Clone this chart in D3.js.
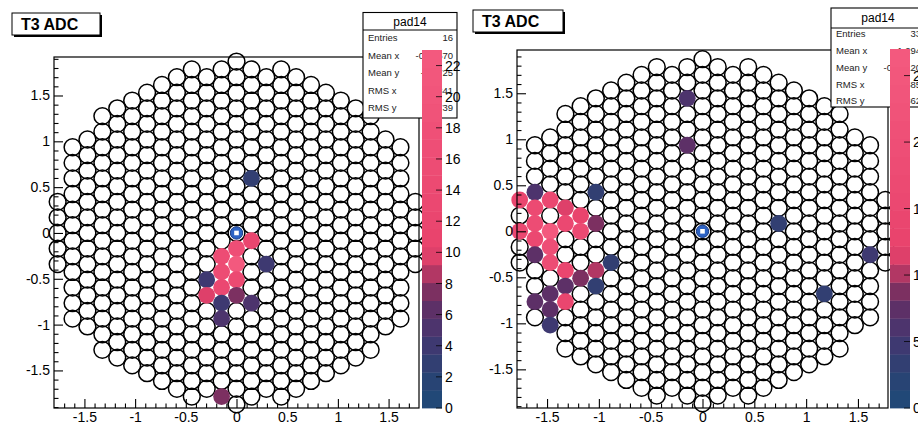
<!DOCTYPE html>
<html>
<head>
<meta charset="utf-8">
<script src="https://cdn.jsdelivr.net/npm/d3@7/dist/d3.min.js"></script>
<style>
  html, body { margin: 0; padding: 0; background: #ffffff; }
  svg { display: block; }
  text { font-family: "Liberation Sans", Arial, Helvetica, sans-serif; fill: #000; }
</style>
</head>
<body>
<svg id="chart" width="918" height="429"></svg>
<script>
// ---- pad layout: hexagonal lattice, odd columns sit half a row off ----
const columnIndex  = [-12, -11, -10, -9, -8, -7, -6, -5, -4, -3, -2, -1, 0, 1, 2, 3, 4, 5, 6, 7, 8, 9, 10, 11, 12];
const columnTopRow = [2, 5.5, 6, 7.5, 8, 8.5, 9, 9.5, 10, 10.5, 10, 10.5, 11, 10.5, 10, 10.5, 10, 9.5, 9, 8.5, 8, 7.5, 6, 5.5, 2];
const pitchX = 0.147;   // column spacing (axis units)
const pitchY = 0.17;    // row spacing (axis units)

// ---- hit pads, first event ----
const padColA = [1, 0, -1, 0, -1, 0, -2, -1, -2, 0, -1, 1, -1, 2, 1, -1];
const padRowA = [-0.5, -1, -1.5, -2, -2.5, -3, -3, -3.5, -4, -4, -4.5, -4.5, -5.5, -2, 3.5, -10.5];
const adcA    = [12.5, 17, 15, 23, 16, 14, 4.5, 13, 10, 7, 4.5, 5, 5.5, 4.5, 2.5, 7];

// ---- hit pads, second event ----
const padColB = [-1, -1, -7, -11, -12, -11, -10, -9, -8, -12, -11, -11, -10, -9, -8, -7, -10, -11, -10, -6,
                 -9, -7, -8, -7, -9, -10, -9, -11, -10, -10, 5, 11, 8];
const padRowB = [8.5, 5.5, 2.5, 2.5, 2, 1.5, 2, 1.5, 1, 0, 0.5, -0.5, 0, 0.5, 0, 0.5, -1, -1.5, -2, -2,
                 -2.5, -2.5, -3, -3.5, -3.5, -4, -4.5, -4.5, -5, -6, 0.5, -1.5, -4];
const adcB    = [6, 8, 4, 5.5, 14, 17, 15, 12, 13, 16, 18, 16, 27, 15, 17, 8.5, 19, 8, 18, 3,
                 14, 10, 8.5, 4, 8, 8, 14, 8, 7.5, 5, 3, 5, 3];

// ---- axis and palette tick labels ----
const axisTicks = [-1.5, -1, -0.5, 0, 0.5, 1, 1.5];
const barTicksA = [0, 2, 4, 6, 8, 10, 12, 14, 16, 18, 20, 22];
const barTicksB = [0, 5, 10, 15, 20, 25];
const statNames = ["Entries", "Mean x", "Mean y", "RMS x", "RMS y"];
const histTitle = "T3 ADC";
const statTitle = "pad14";

// ---- colour palette (fraction of z maximum -> colour) ----
const paletteStops  = [0, 0.1, 0.2, 0.28, 0.34, 0.39, 0.44, 1];
const paletteColors = ["#1d4a78", "#2b4273", "#453670", "#5f3066", "#86305f", "#c53a66", "#e8426c", "#f45a7f"];
const nLevels = 20;

const panels = [
  { frame: {x0: 54, x1: 419, y0: 57, y1: 408}, xDomain: [-1.8, 1.8], yDomain: [-1.91, 1.92],
    bar: {x: 422, w: 20, y0: 50, y1: 408},
    stats: {x: 363, y: 12.5, w: 94, h: 105.5, sep: 30, rows: [38, 55.5, 73, 90.5, 108]},
    title: {x: 12, y: 13, w: 88, h: 22},
    cols: padColA, rows: padRowA, vals: adcA, barTicks: barTicksA },
  { frame: {x0: 517, x1: 888, y0: 50, y1: 408}, xDomain: [-1.79, 1.79], yDomain: [-1.92, 1.97],
    bar: {x: 890, w: 20, y0: 49, y1: 408},
    stats: {x: 831, y: 8, w: 94, h: 99, sep: 28, rows: [34, 51, 68, 85, 101]},
    title: {x: 473, y: 10, w: 90, h: 22},
    cols: padColB, rows: padRowB, vals: adcB, barTicks: barTicksB }
];

const svg = d3.select("#chart");
const padR = 8.4;
const fmtTick = v => String(v);
const fmtStat = v => d3.format(".4g")(v).replace("\u2212", "-");
const palette = d3.scaleLinear().domain(paletteStops).range(paletteColors).interpolate(d3.interpolateRgb);
const levelColor = i => palette((i + 0.5) / nLevels);

// every pad of the detector
const cells = [];
columnIndex.forEach((k, i) => {
  const top = columnTopRow[i];
  for (let r = -top; r <= top + 1e-9; r += 1) cells.push({k, r});
});
const isMajor = v => Math.abs(v * 2 - Math.round(v * 2)) < 1e-9;

panels.forEach(p => {
  const x = d3.scaleLinear().domain(p.xDomain).range([p.frame.x0, p.frame.x1]);
  const y = d3.scaleLinear().domain(p.yDomain).range([p.frame.y1, p.frame.y0]);
  const zMax = d3.max(p.vals);
  const z = d3.scaleLinear().domain([0, zMax]).range([p.bar.y1, p.bar.y0]);
  const level = v => Math.min(nLevels - 1, Math.floor(v / zMax * nLevels));

  const hits = p.vals.map((v, i) => ({k: p.cols[i], r: p.rows[i], v}));
  const hitKey = new Set(hits.map(h => h.k + "," + h.r));
  const px = d => x(d.k * pitchX), py = d => y(d.r * pitchY);

  const g = svg.append("g");

  // pads: white bodies, outlines of empty pads, then coloured hits
  g.append("g").selectAll("circle").data(cells).join("circle")
    .attr("cx", px).attr("cy", py).attr("r", padR).attr("fill", "#fff");
  g.append("g").selectAll("circle").data(cells.filter(c => !hitKey.has(c.k + "," + c.r))).join("circle")
    .attr("cx", px).attr("cy", py).attr("r", padR)
    .attr("fill", "none").attr("stroke", "#000").attr("stroke-width", 1.5);
  g.append("g").selectAll("circle").data(hits).join("circle")
    .attr("cx", px).attr("cy", py).attr("r", padR)
    .attr("fill", d => levelColor(level(d.v)));

  // beam-centre marker
  g.append("circle").attr("cx", x(0)).attr("cy", y(0)).attr("r", 6.2)
    .attr("fill", "#2d63c4").attr("stroke", "#1b3d86").attr("stroke-width", 1);
  g.append("rect").attr("x", x(0) - 2.3).attr("y", y(0) - 2.3).attr("width", 4.6).attr("height", 4.6)
    .attr("fill", "#fff");

  // frame
  g.append("rect").attr("x", p.frame.x0).attr("y", p.frame.y0)
    .attr("width", p.frame.x1 - p.frame.x0).attr("height", p.frame.y1 - p.frame.y0)
    .attr("fill", "none").attr("stroke", "#000").attr("stroke-width", 1.2);

  // axes: major ticks with labels, minor ticks every 0.1
  const yMinor = d3.range(-19, 20).map(i => i / 10).filter(v => !isMajor(v));
  const xMinor = d3.range(-17, 18).map(i => i / 10).filter(v => !isMajor(v));
  const styleAxis = s => {
    s.select(".domain").remove();
    s.attr("font-size", 14).attr("font-family", null);
    s.selectAll("line").attr("stroke-width", 1.1);
  };
  g.append("g").attr("transform", `translate(${p.frame.x0},0)`)
    .call(d3.axisLeft(y).tickValues(axisTicks).tickSize(-9).tickPadding(4).tickFormat(fmtTick)).call(styleAxis);
  g.append("g").attr("transform", `translate(${p.frame.x0},0)`)
    .call(d3.axisLeft(y).tickValues(yMinor).tickSize(-4.5).tickFormat("")).call(styleAxis);
  g.append("g").attr("transform", `translate(0,${p.frame.y1})`)
    .call(d3.axisBottom(x).tickValues(axisTicks).tickSize(-9).tickPadding(4).tickFormat(fmtTick)).call(styleAxis);
  g.append("g").attr("transform", `translate(0,${p.frame.y1})`)
    .call(d3.axisBottom(x).tickValues(xMinor).tickSize(-4.5).tickFormat("")).call(styleAxis);

  // histogram title box
  const t = p.title;
  g.append("rect").attr("x", t.x + 2).attr("y", t.y + 2).attr("width", t.w).attr("height", t.h).attr("fill", "#000");
  g.append("rect").attr("x", t.x).attr("y", t.y).attr("width", t.w).attr("height", t.h)
    .attr("fill", "#fff").attr("stroke", "#000").attr("stroke-width", 1);
  g.append("text").attr("x", t.x + 9).attr("y", t.y + t.h / 2).attr("dy", "0.36em")
    .attr("font-size", 16).attr("font-weight", "bold").text(histTitle);

  // statistics box, computed from the hit pads
  const wSum = d3.sum(hits, h => h.v);
  const mx = d3.sum(hits, h => h.v * h.k * pitchX) / wSum;
  const my = d3.sum(hits, h => h.v * h.r * pitchY) / wSum;
  const sx = Math.sqrt(d3.sum(hits, h => h.v * (h.k * pitchX - mx) ** 2) / wSum);
  const sy = Math.sqrt(d3.sum(hits, h => h.v * (h.r * pitchY - my) ** 2) / wSum);
  const statVals = [String(hits.length), fmtStat(mx), fmtStat(my), fmtStat(sx), fmtStat(sy)];
  const s = p.stats;
  g.append("rect").attr("x", s.x).attr("y", s.y).attr("width", s.w).attr("height", s.h)
    .attr("fill", "#fff").attr("stroke", "#000").attr("stroke-width", 1.1);
  g.append("line").attr("x1", s.x).attr("x2", s.x + s.w).attr("y1", s.sep).attr("y2", s.sep)
    .attr("stroke", "#000").attr("stroke-width", 1);
  g.append("text").attr("x", s.x + s.w / 2).attr("y", (s.y + s.sep) / 2).attr("dy", "0.36em")
    .attr("text-anchor", "middle").attr("font-size", 12).text(statTitle);
  statNames.forEach((name, i) => {
    g.append("text").attr("x", s.x + 5).attr("y", s.rows[i]).attr("dy", "0.36em")
      .attr("font-size", 9.5).style("fill", "#222").text(name);
    g.append("text").attr("x", s.x + s.w - 4).attr("y", s.rows[i]).attr("dy", "0.36em")
      .attr("text-anchor", "end").attr("font-size", 9.5).style("fill", "#222").text(statVals[i]);
  });

  // palette
  const b = p.bar;
  g.append("g").selectAll("rect").data(d3.range(nLevels)).join("rect")
    .attr("x", b.x).attr("width", b.w)
    .attr("y", i => z((i + 1) * zMax / nLevels))
    .attr("height", i => z(i * zMax / nLevels) - z((i + 1) * zMax / nLevels) + 0.4)
    .attr("fill", levelColor);
  g.append("g").selectAll("line").data(p.barTicks).join("line")
    .attr("x1", b.x + b.w).attr("x2", b.x + b.w - 6).attr("y1", z).attr("y2", z)
    .attr("stroke", "#000").attr("stroke-opacity", 0.75).attr("stroke-width", 1);
  g.append("g").selectAll("text").data(p.barTicks).join("text")
    .attr("x", b.x + b.w + 3).attr("y", z).attr("dy", "0.36em")
    .attr("font-size", 14).text(fmtTick);
});
</script>
</body>
</html>
